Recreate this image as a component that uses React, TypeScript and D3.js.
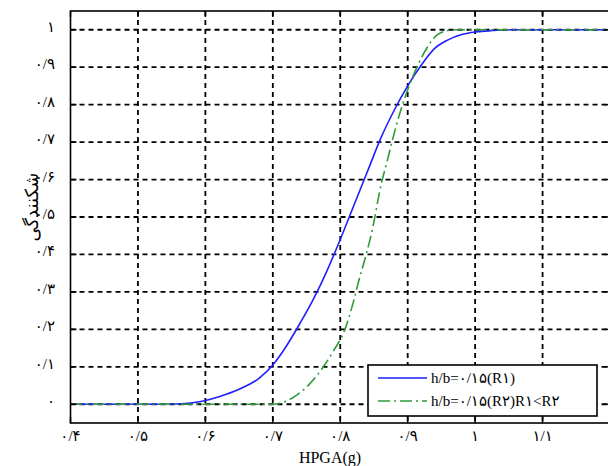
import React from 'react';
import * as d3 from 'd3';

// داده‌ها
const xTicks = [0.4, 0.5, 0.6, 0.7, 0.8, 0.9, 1.0, 1.1, 1.2];
const xTickLabels = ['۰/۴', '۰/۵', '۰/۶', '۰/۷', '۰/۸', '۰/۹', '۱', '۱/۱', ''];
const yTicks = [0, 0.1, 0.2, 0.3, 0.4, 0.5, 0.6, 0.7, 0.8, 0.9, 1.0];
const yTickLabels = ['۰', '۰/۱', '۰/۲', '۰/۳', '۰/۴', '۰/۵', '۰/۶', '۰/۷', '۰/۸', '۰/۹', '۱'];

const r1X = [0.4, 0.5, 0.55, 0.57, 0.6, 0.62, 0.65, 0.68, 0.7, 0.72, 0.74, 0.76, 0.78, 0.8, 0.82, 0.84, 0.86, 0.88, 0.9, 0.92, 0.94, 0.96, 0.98, 1.0, 1.02, 1.045, 1.1, 1.2];
const r1Y = [0, 0, 0, 0.002, 0.01, 0.02, 0.04, 0.07, 0.105, 0.155, 0.215, 0.28, 0.355, 0.44, 0.53, 0.62, 0.71, 0.785, 0.85, 0.905, 0.95, 0.973, 0.987, 0.994, 0.997, 1, 1, 1];

const r2X = [0.4, 0.7, 0.715, 0.736, 0.755, 0.775, 0.789, 0.807, 0.819, 0.829, 0.837, 0.848, 0.861, 0.869, 0.878, 0.888, 0.9, 0.915, 0.928, 0.947, 0.97, 1.2];
const r2Y = [0, 0, 0.005, 0.025, 0.055, 0.1, 0.14, 0.2, 0.27, 0.34, 0.39, 0.47, 0.59, 0.645, 0.71, 0.775, 0.84, 0.905, 0.95, 0.99, 1, 1];

const legendLabels = ['h/b=۰/۱۵(R۱)', 'h/b=۰/۱۵(R۲)R۱<R۲'];

const W = 608;
const H = 466;

export default function App() {
  const x = d3.scaleLinear().domain([0.4, 1.2]).range([70.5, 610]);
  const y = d3.scaleLinear().domain([-0.05, 1.05]).range([423, 11]);

  const line = d3.line<[number, number]>()
    .x(d => x(d[0]))
    .y(d => y(d[1]))
    .curve(d3.curveMonotoneX);

  const r1 = line(r1X.map((v, i) => [v, r1Y[i]] as [number, number])) || '';
  const r2 = line(r2X.map((v, i) => [v, r2Y[i]] as [number, number])) || '';

  const [x0, x1] = x.range();
  const [y0, y1] = y.range();
  const serif = '"Liberation Serif", "Times New Roman", "DejaVu Sans", serif';
  const blue = '#1f1fff';
  const green = '#2f9a3a';

  return (
    <svg width={W} height={H} style={{ position: 'absolute', left: 0, top: 0, background: '#fff' }}>
      <defs>
        <clipPath id="plot">
          <rect x={x0} y={y1} width={x1 - x0} height={y0 - y1} />
        </clipPath>
      </defs>

      {/* شبکه */}
      <g stroke="#000" strokeWidth={1.8} strokeDasharray="5,4">
        {xTicks.slice(1, -1).map(t => (
          <line key={'gx' + t} x1={x(t)} x2={x(t)} y1={y1} y2={y0} />
        ))}
        {yTicks.map(t => (
          <line key={'gy' + t} x1={x0} x2={x1} y1={y(t)} y2={y(t)} />
        ))}
      </g>

      {/* منحنی‌ها */}
      <g clipPath="url(#plot)" fill="none">
        <path d={r1} stroke={blue} strokeWidth={1.6} />
        <path d={r2} stroke={green} strokeWidth={1.6} strokeDasharray="12,4,2,4" />
      </g>

      {/* محورها */}
      <rect x={x0} y={y1} width={x1 - x0} height={y0 - y1} fill="none" stroke="#000" strokeWidth={1.6} />
      <g stroke="#000" strokeWidth={1.5}>
        {xTicks.map(t => (
          <g key={'tx' + t}>
            <line x1={x(t)} x2={x(t)} y1={y0} y2={y0 - 6} />
            <line x1={x(t)} x2={x(t)} y1={y1} y2={y1 + 6} />
          </g>
        ))}
        {yTicks.map(t => (
          <g key={'ty' + t}>
            <line x1={x0} x2={x0 + 6} y1={y(t)} y2={y(t)} />
            <line x1={x1} x2={x1 - 6} y1={y(t)} y2={y(t)} />
          </g>
        ))}
      </g>

      {/* برچسب‌ها */}
      <g fontFamily={serif} fontSize={15} fill="#000">
        {xTicks.map((t, i) => (
          <text key={'lx' + t} x={x(t)} y={441} textAnchor="middle">{xTickLabels[i]}</text>
        ))}
        {yTicks.map((t, i) => (
          <text key={'ly' + t} x={55} y={y(t) + 2} textAnchor="end">{yTickLabels[i]}</text>
        ))}
      </g>
      <text x={330} y={463} textAnchor="middle" fontFamily={serif} fontSize={16}>HPGA(g)</text>
      <text transform={`translate(38,${207}) rotate(-90)`} textAnchor="middle"
        fontFamily='"DejaVu Sans", sans-serif' fontSize={18}>شکنندگی</text>

      {/* راهنما */}
      <g>
        <rect x={368} y={365} width={229} height={51} fill="#fff" stroke="#000" strokeWidth={1.6} />
        <line x1={378} x2={427} y1={378} y2={378} stroke={blue} strokeWidth={1.6} />
        <line x1={378} x2={427} y1={401} y2={401} stroke={green} strokeWidth={1.6} strokeDasharray="12,4,2,4" />
        <text x={431} y={383} fontFamily={serif} fontSize={15}>{legendLabels[0]}</text>
        <text x={431} y={406} fontFamily={serif} fontSize={15}>{legendLabels[1]}</text>
      </g>
    </svg>
  );
}
